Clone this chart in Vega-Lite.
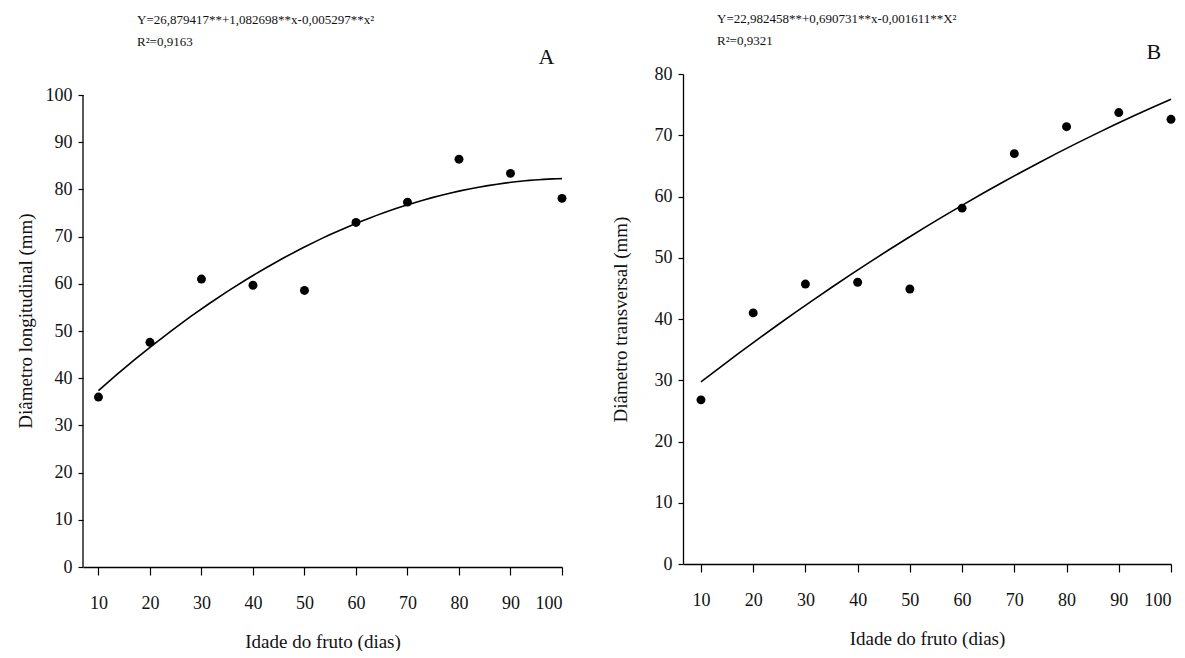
{
  "$schema": "https://vega.github.io/schema/vega-lite/v6.json",
  "background": "white",
  "padding": {"left": 16, "top": 12, "right": 0, "bottom": 0},
  "spacing": 44,
  "align": "none",
  "bounds": "full",
  "datasets": {
    "A": [
      {"x": 10, "y": 36.0}, {"x": 20, "y": 47.6}, {"x": 30, "y": 61.0}, {"x": 40, "y": 59.7},
      {"x": 50, "y": 58.6}, {"x": 60, "y": 73.0}, {"x": 70, "y": 77.3}, {"x": 80, "y": 86.4},
      {"x": 90, "y": 83.4}, {"x": 100, "y": 78.1}
    ],
    "B": [
      {"x": 10, "y": 26.8}, {"x": 20, "y": 41.0}, {"x": 30, "y": 45.7}, {"x": 40, "y": 46.0},
      {"x": 50, "y": 44.9}, {"x": 60, "y": 58.1}, {"x": 70, "y": 67.0}, {"x": 80, "y": 71.4},
      {"x": 90, "y": 73.7}, {"x": 100, "y": 72.6}
    ],
    "axisA": [{"x": 7, "y": 0, "y2": 100}],
    "labA": [{"x": 97, "y": 108, "label": "A"}],
    "labB": [{"x": 96.7, "y": 83.6, "label": "B"}]
  },
  "config": {
    "font": "Liberation Serif",
    "view": {"stroke": null},
    "axis": {
      "grid": false,
      "domainColor": "#000",
      "domainWidth": 1.3,
      "tickColor": "#000",
      "tickWidth": 1.2,
      "labelFont": "Liberation Serif",
      "labelFontSize": 18,
      "labelColor": "#111",
      "titleFont": "Liberation Serif",
      "titleFontSize": 19,
      "titleFontWeight": "normal",
      "titleColor": "#111"
    },
    "axisX": {"tickSize": 8, "labelPadding": 19, "titlePadding": 20},
    "axisY": {"tickSize": 5, "labelPadding": 6, "titlePadding": 10}
  },
  "hconcat": [
    {
      "width": 479,
      "height": 493,
      "title": {
        "text": "Y=26,879417**+1,082698**x-0,005297**x²",
        "subtitle": "R²=0,9163",
        "anchor": "start",
        "frame": "group",
        "dx": 54,
        "font": "Liberation Serif",
        "fontSize": 13,
        "fontWeight": "normal",
        "color": "#111",
        "subtitleFont": "Liberation Serif",
        "subtitleFontSize": 13,
        "subtitleColor": "#111",
        "subtitlePadding": 9,
        "offset": -3
      },
      "layer": [
        {
          "data": {"name": "A"},
          "mark": {"type": "point", "filled": true, "color": "#000", "size": 80, "opacity": 1},
          "encoding": {
            "x": {"field": "x", "type": "quantitative", "scale": {"domain": [7, 100], "nice": false, "zero": false},
                  "axis": {"values": [10, 20, 30, 40, 50, 60, 70, 80, 90, 100], "title": "Idade do fruto (dias)"}},
            "y": {"field": "y", "type": "quantitative", "scale": {"domain": [0, 104.45], "nice": false},
                  "axis": {"domain": false, "values": [0, 10, 20, 30, 40, 50, 60, 70, 80, 90, 100], "title": "Diâmetro longitudinal (mm)"}}
          }
        },
        {
          "data": {"name": "axisA"},
          "mark": {"type": "rule", "color": "#000", "strokeWidth": 1.3},
          "encoding": {
            "x": {"field": "x", "type": "quantitative"},
            "y": {"field": "y", "type": "quantitative"},
            "y2": {"field": "y2"}
          }
        },
        {
          "data": {"name": "A"},
          "transform": [{"regression": "y", "on": "x", "method": "poly", "order": 2}],
          "mark": {"type": "line", "color": "#000", "strokeWidth": 1.6},
          "encoding": {
            "x": {"field": "x", "type": "quantitative"},
            "y": {"field": "y", "type": "quantitative"}
          }
        },
        {
          "data": {"name": "labA"},
          "mark": {"type": "text", "fontSize": 22, "color": "#111", "align": "center", "baseline": "middle"},
          "encoding": {
            "x": {"field": "x", "type": "quantitative"},
            "y": {"field": "y", "type": "quantitative"},
            "text": {"field": "label"}
          }
        }
      ]
    },
    {
      "width": 488,
      "height": 490,
      "title": {
        "text": "Y=22,982458**+0,690731**x-0,001611**X²",
        "subtitle": "R²=0,9321",
        "anchor": "start",
        "frame": "group",
        "dx": 34,
        "font": "Liberation Serif",
        "fontSize": 13,
        "fontWeight": "normal",
        "color": "#111",
        "subtitleFont": "Liberation Serif",
        "subtitleFontSize": 13,
        "subtitleColor": "#111",
        "subtitlePadding": 9,
        "offset": -7
      },
      "layer": [
        {
          "data": {"name": "B"},
          "mark": {"type": "point", "filled": true, "color": "#000", "size": 80, "opacity": 1},
          "encoding": {
            "x": {"field": "x", "type": "quantitative", "scale": {"domain": [6.56, 100], "nice": false, "zero": false},
                  "axis": {"values": [10, 20, 30, 40, 50, 60, 70, 80, 90, 100], "title": "Idade do fruto (dias)"}},
            "y": {"field": "y", "type": "quantitative", "scale": {"domain": [0, 80], "nice": false},
                  "axis": {"values": [0, 10, 20, 30, 40, 50, 60, 70, 80], "title": "Diâmetro transversal (mm)", "titlePadding": 24}}
          }
        },
        {
          "data": {"name": "B"},
          "transform": [{"regression": "y", "on": "x", "method": "poly", "order": 2}],
          "mark": {"type": "line", "color": "#000", "strokeWidth": 1.6},
          "encoding": {
            "x": {"field": "x", "type": "quantitative"},
            "y": {"field": "y", "type": "quantitative"}
          }
        },
        {
          "data": {"name": "labB"},
          "mark": {"type": "text", "fontSize": 22, "color": "#111", "align": "center", "baseline": "middle"},
          "encoding": {
            "x": {"field": "x", "type": "quantitative"},
            "y": {"field": "y", "type": "quantitative"},
            "text": {"field": "label"}
          }
        }
      ]
    }
  ]
}
